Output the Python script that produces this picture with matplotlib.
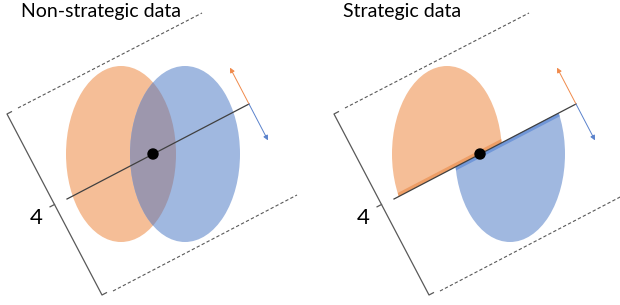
import numpy as np
import matplotlib

matplotlib.use("Agg")
import matplotlib.pyplot as plt
from matplotlib.patches import Ellipse, Polygon, Circle

# Panel titles and horizontal offsets (pixel coordinates, left panel = 0)
TITLES = ["Non-strategic data", "Strategic data"]
TITLE_X = [21, 343]
PANEL_DX = [0, 327]
BRACKET_LABEL = "4"

# Geometry of the left panel, in pixels (y grows downward)
LINE_START = [67, 199]
LINE_END = [249, 104]
DOT = [153, 154]
ELL_SIZE = [110, 176]
ORANGE_CENTER = [[121, 154], [120, 154]]
BLUE_CENTER = [[185, 154], [183, 154]]
DASH_TOP = [[18, 108], [202, 13]]
DASH_BOTTOM = [[113, 291], [297, 195]]
BRACKET = [[7, 114], [102, 295]]
ARROW_LEN = 41

ORANGE = "#F5BE97"
BLUE = "#A0B8E0"
OVERLAP = "#9D97AD"
ORANGE_DARK = "#EE9E66"
BLUE_DARK = "#7197D8"
ARROW_ORANGE = "#F08A4B"
ARROW_BLUE = "#5A82CC"
GRAY = "#595959"

fig = plt.figure(figsize=(6.2, 3.05), dpi=100)
ax = fig.add_axes([0, 0, 1, 1])
ax.set_xlim(0, 620)
ax.set_ylim(305, 0)
ax.set_aspect("equal")
ax.axis("off")

p0 = np.array(LINE_START, float)
p1 = np.array(LINE_END, float)
u = (p1 - p0) / np.linalg.norm(p1 - p0)
n = np.array([-u[1], u[0]])  # points down-right
if n[1] < 0:
    n = -n


def shifted(pt, dx):
    return np.array(pt, float) + np.array([dx, 0.0])


for k, (title, tx, dx) in enumerate(zip(TITLES, TITLE_X, PANEL_DX)):
    a = shifted(LINE_START, dx)
    b = shifted(LINE_END, dx)
    dot = shifted(DOT, dx)
    oc = shifted(ORANGE_CENTER[k], dx)
    bc = shifted(BLUE_CENTER[k], dx)

    if k == 0:
        ax.add_patch(Ellipse(oc, ELL_SIZE[0], ELL_SIZE[1], color=ORANGE, lw=0, zorder=1))
        ax.add_patch(Ellipse(bc, ELL_SIZE[0], ELL_SIZE[1], color=BLUE, lw=0, zorder=1))
        clip = Ellipse(oc, ELL_SIZE[0], ELL_SIZE[1], transform=ax.transData)
        ov = Ellipse(bc, ELL_SIZE[0], ELL_SIZE[1], color=OVERLAP, lw=0, zorder=2)
        ax.add_patch(ov)
        ov.set_clip_path(clip)
    else:
        far = 400
        for center, col, dark, sgn in [(oc, ORANGE, ORANGE_DARK, -1), (bc, BLUE, BLUE_DARK, 1)]:
            half = Polygon([dot - far * u, dot + far * u,
                            dot + far * u + sgn * far * n, dot - far * u + sgn * far * n],
                           closed=True, transform=ax.transData)
            e = Ellipse(center, ELL_SIZE[0], ELL_SIZE[1], color=col, lw=0, zorder=1)
            ax.add_patch(e)
            e.set_clip_path(half)
            strip = Polygon([dot - far * u, dot + far * u,
                             dot + far * u + sgn * 3.5 * n, dot - far * u + sgn * 3.5 * n],
                            closed=True, transform=ax.transData)
            e2 = Ellipse(center, ELL_SIZE[0], ELL_SIZE[1], color=dark, lw=0, zorder=2)
            ax.add_patch(e2)
            e2.set_clip_path(strip)

    # axis line and dot
    ax.plot([a[0], b[0]], [a[1], b[1]], color="#404040", lw=0.9, zorder=3)
    ax.add_patch(Circle(dot, 5, color="black", zorder=4))

    # arrows
    for col, sgn in [(ARROW_ORANGE, -1), (ARROW_BLUE, 1)]:
        tip = b + sgn * ARROW_LEN * n
        ax.annotate("", xy=tip, xytext=b,
                    arrowprops=dict(arrowstyle="-|>", color=col, lw=0.7,
                                    mutation_scale=7, shrinkA=0, shrinkB=0),
                    zorder=3)

    # dashed boundaries
    for seg in [DASH_TOP, DASH_BOTTOM]:
        s0 = shifted(seg[0], dx)
        s1 = shifted(seg[1], dx)
        ax.plot([s0[0], s1[0]], [s0[1], s1[1]], color=GRAY, lw=0.8,
                dashes=(3, 2), zorder=3)

    # bracket
    q0 = shifted(BRACKET[0], dx)
    q1 = shifted(BRACKET[1], dx)
    mid = (q0 + q1) / 2
    tick = 5
    xs = [q0[0] + tick * u[0], q0[0], q1[0], q1[0] + tick * u[0]]
    ys = [q0[1] + tick * u[1], q0[1], q1[1], q1[1] + tick * u[1]]
    ax.plot(xs, ys, color=GRAY, lw=0.9, zorder=3)
    ax.plot([mid[0], mid[0] - tick * u[0]], [mid[1], mid[1] - tick * u[1]],
            color=GRAY, lw=0.9, zorder=3)
    ax.text(mid[0] - 18, mid[1] + 13, BRACKET_LABEL, fontsize=16,
            family="Lato", ha="center", va="center", color="black")

    ax.text(tx, 12, title, fontsize=14, family="Lato", ha="left",
            va="center", color="black")

fig.savefig("out.png", dpi=100)
